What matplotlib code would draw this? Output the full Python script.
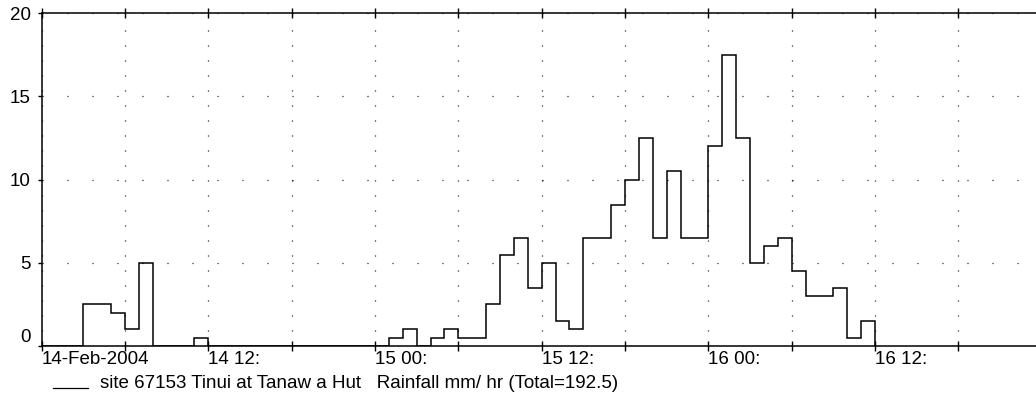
import matplotlib
matplotlib.use("Agg")
import matplotlib.pyplot as plt
import numpy as np

plt.rcParams['font.family'] = ['Liberation Sans', 'DejaVu Sans']

# hourly rainfall (mm/hr) starting 14-Feb-2004 00:00
rain = [0, 0, 0, 2.5, 2.5, 2, 1, 5, 0, 0, 0, 0.5,
        0, 0, 0, 0, 0, 0, 0, 0, 0, 0, 0, 0,
        0, 0.5, 1, 0, 0.5, 1, 0.5, 0.5, 2.5, 5.5, 6.5, 3.5,
        5, 1.5, 1, 6.5, 6.5, 8.5, 10, 12.5, 6.5, 10.5, 6.5, 6.5,
        12, 17.5, 12.5, 5, 6, 6.5, 4.5, 3, 3, 3.5, 0.5, 1.5]
tick_hours = [0, 6, 12, 18, 24, 30, 36, 42, 48, 54, 60, 66, 72]
tick_labels = ['14-Feb-2004', '', '14 12:', '', '15 00:', '', '15 12:', '',
               '16 00:', '', '16 12:', '', '']
yticks = [0, 5, 10, 15, 20]
legend_text = 'site 67153 Tinui at Tanaw a Hut   Rainfall mm/ hr (Total=192.5)'

fig = plt.figure(figsize=(10.36, 3.99), dpi=100)
ax = fig.add_axes([0.0402, 0.1328, 0.9653, 0.8338])

edges = np.arange(len(rain) + 1)
ax.stairs(rain, edges, color='black', lw=1.1)

ax.set_xlim(0, 72)
ax.set_ylim(0, 20)
ax.set_xticks(tick_hours)
ax.set_xticklabels(tick_labels, ha='left', fontsize=13.5)
ax.set_yticks(yticks)
ax.set_yticklabels([str(v) for v in yticks], fontsize=13.5)
ax.get_yticklabels()[0].set_va('bottom')

ax.tick_params(axis='x', direction='inout', length=7.5, width=1,
               top=True, pad=0)
ax.tick_params(axis='y', direction='out', length=3, width=1, pad=5)

ax.spines['right'].set_visible(False)
for s in ['left', 'top', 'bottom']:
    ax.spines[s].set_linewidth(1.1)

ax.grid(axis='x', color='black', linestyle=(0, (0.8, 11.2)), lw=0.9)
ax.grid(axis='y', color='black', linestyle=(0, (0.8, 19.2)), lw=0.9)
ax.set_axisbelow(True)

# legend line and text
fig.add_artist(plt.Line2D([53 / 1036, 88 / 1036], [1 - 388 / 399, 1 - 388 / 399],
                          color='black', lw=0.9))
fig.text(100 / 1036, 1 - 384 / 399, legend_text, fontsize=13.5, va='center', ha='left')

fig.savefig('out.png', dpi=100)
